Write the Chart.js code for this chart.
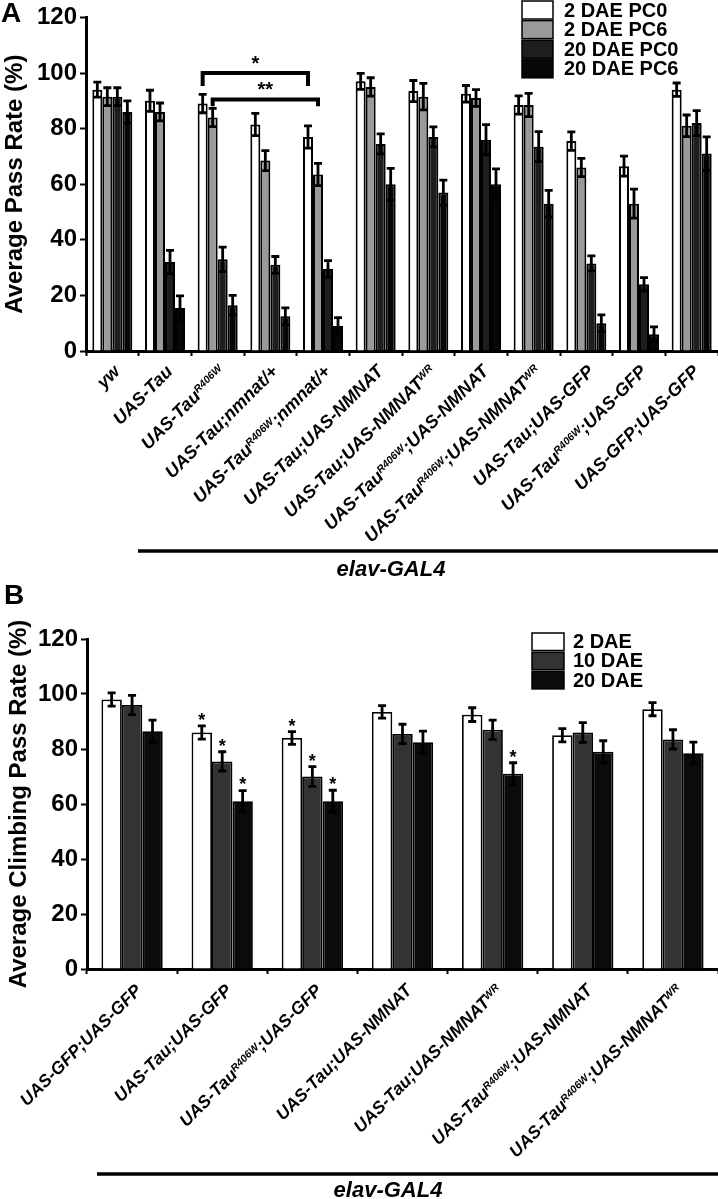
<!DOCTYPE html>
<html>
<head>
<meta charset="utf-8">
<script src="https://cdn.jsdelivr.net/npm/chart.js@4.4.1/dist/chart.umd.min.js"></script>
<style>
  html, body { margin: 0; padding: 0; background: #fff; }
  #wrap { position: relative; width: 718px; height: 1199px; overflow: hidden; }
  canvas { position: absolute; left: 0; }
  #chartA { top: 0; }
  #chartB { top: 585px; }
</style>
</head>
<body>
<div id="wrap">
  <canvas id="chartA" width="718" height="585"></canvas>
  <canvas id="chartB" width="718" height="614"></canvas>
</div>
<script>
const FAMILY = '"Liberation Sans", Arial, Helvetica, sans-serif';

// ---- Panel A data ----
// "^" toggles superscript in a label
const groupsA = ['yw', 'UAS-Tau', 'UAS-Tau^R406W', 'UAS-Tau;nmnat/+', 'UAS-Tau^R406W^;nmnat/+',
  'UAS-Tau;UAS-NMNAT', 'UAS-Tau;UAS-NMNAT^WR', 'UAS-Tau^R406W^;UAS-NMNAT', 'UAS-Tau^R406W^;UAS-NMNAT^WR',
  'UAS-Tau;UAS-GFP', 'UAS-Tau^R406W^;UAS-GFP', 'UAS-GFP;UAS-GFP'];
const seriesA = ['2 DAE PC0', '2 DAE PC6', '20 DAE PC0', '20 DAE PC6'];
const dae2pc0 = [94, 90, 89, 81.5, 77, 97, 93.5, 92.5, 88.5, 75.5, 66.5, 94];
const dae2pc6 = [91.5, 86, 84, 68.5, 63.5, 95, 91.5, 91, 88.5, 66, 53, 81];
const dae20pc0 = [91.5, 32, 33, 31, 29.5, 74.5, 77, 76, 73.5, 31.5, 24, 82];
const dae20pc6 = [86, 15.5, 16.5, 12.5, 9, 60, 57, 60, 53, 10, 6, 71];
const err2pc0 = [2.7, 3.8, 3.3, 4, 4, 2.9, 3.8, 3, 3.3, 3.3, 3.6, 2.4];
const err2pc6 = [3.2, 3.2, 3.3, 3.6, 4, 3.3, 4.8, 3, 4.2, 3.3, 5.2, 3.9];
const err20pc0 = [3.2, 4.2, 4.4, 3, 3, 3.6, 3.6, 5.4, 5.4, 2.7, 2.4, 4.5];
const err20pc6 = [4, 4.3, 3.5, 3, 3, 5.7, 4.5, 5.5, 4.8, 3, 2.7, 6];
const coloursA = ['#ffffff', '#9a9a9a', '#1e1e1e', '#070707'];
// significance brackets: [dataset, fromGroup, toGroup, level, endLevel, mark]
const bracketsA = [
  [0, 2, 4, 100, 95.3, '*'],
  [1, 2, 4, 90.5, 88, '**']
];

// ---- Panel B data ----
const groupsB = ['UAS-GFP;UAS-GFP', 'UAS-Tau;UAS-GFP', 'UAS-Tau^R406W^;UAS-GFP', 'UAS-Tau;UAS-NMNAT',
  'UAS-Tau;UAS-NMNAT^WR', 'UAS-Tau^R406W^;UAS-NMNAT', 'UAS-Tau^R406W^;UAS-NMNAT^WR'];
const seriesB = ['2 DAE', '10 DAE', '20 DAE'];
const dae2 = [98, 86, 84, 93.5, 92.5, 85, 94.5];
const dae10 = [96, 75.5, 70, 85.5, 87, 86, 83.5];
const dae20 = [86.5, 61, 61, 82.5, 71, 79, 78.5];
const err2 = [2.4, 2.4, 2.3, 2.3, 2.5, 2.4, 2.4];
const err10 = [3.5, 3.5, 3.6, 3.5, 3.5, 3.6, 3.5];
const err20 = [4, 3.9, 4, 4, 4, 4, 4];
const sig2 = [0, 1, 1, 0, 0, 0, 0];
const sig10 = [0, 1, 1, 0, 0, 0, 0];
const sig20 = [0, 1, 1, 0, 1, 0, 0];
const coloursB = ['#ffffff', '#333333', '#0b0b0b'];

const yTicks = { min: 0, max: 120, step: 20 };

Chart.defaults.font.family = FAMILY;
Chart.defaults.color = '#000';

// draws text with ^superscript^ segments, right end anchored at (x, y), rotated -45deg
function drawRichLabel(ctx, text, x, y, size, supSize) {
  const parts = text.split('^');
  const main = `italic bold ${size}px ${FAMILY}`;
  const sup = `italic bold ${supSize}px ${FAMILY}`;
  let total = 0;
  parts.forEach((p, k) => { ctx.font = k % 2 ? sup : main; total += ctx.measureText(p).width; });
  ctx.save();
  ctx.translate(x, y);
  ctx.rotate(-Math.PI / 4);
  ctx.textAlign = 'left';
  ctx.textBaseline = 'alphabetic';
  let cx = -total;
  parts.forEach((p, k) => {
    ctx.font = k % 2 ? sup : main;
    const by = k % 2 ? -size * 0.358 + supSize * 0.716 : size * 0.358;
    ctx.fillText(p, cx, by);
    cx += ctx.measureText(p).width;
  });
  ctx.restore();
}

function decorPlugin(cfg) {
  return {
    id: 'decor',
    afterDatasetsDraw(chart) {
      const ctx = chart.ctx, ys = chart.scales.y;
      ctx.save();
      ctx.strokeStyle = '#000';
      ctx.fillStyle = '#000';
      ctx.lineWidth = 2.8;
      chart.data.datasets.forEach((ds, di) => {
        const meta = chart.getDatasetMeta(di);
        meta.data.forEach((bar, i) => {
          const v = ds.data[i], e = cfg.errors[di][i];
          const top = ys.getPixelForValue(v + e), bot = ys.getPixelForValue(v - e);
          ctx.beginPath();
          ctx.moveTo(bar.x, top); ctx.lineTo(bar.x, bot);
          ctx.moveTo(bar.x - 4, top); ctx.lineTo(bar.x + 4, top);
          ctx.moveTo(bar.x - 4, bot); ctx.lineTo(bar.x + 4, bot);
          ctx.stroke();
          if (cfg.stars && cfg.stars[di][i]) {
            ctx.font = `bold 18px ${FAMILY}`;
            ctx.textAlign = 'center';
            ctx.textBaseline = 'top';
            ctx.fillText('*', bar.x, top - 14);
          }
        });
      });
      ctx.restore();
    },
    afterDraw(chart) {
      const ctx = chart.ctx, xs = chart.scales.x, ys = chart.scales.y;
      ctx.save();
      ctx.fillStyle = '#000';
      ctx.strokeStyle = '#000';

      // category labels
      chart.data.labels.forEach((lab, i) => {
        const px = xs.getPixelForValue(i) + cfg.labelDx;
        drawRichLabel(ctx, lab, px, xs.top + cfg.labelDy, cfg.labelSize, cfg.supSize);
      });

      // brackets
      (cfg.brackets || []).forEach(([di, g1, g2, lvl, endLvl, mark]) => {
        const meta = chart.getDatasetMeta(di);
        const x1 = meta.data[g1].x, x2 = meta.data[g2].x;
        const yl = ys.getPixelForValue(lvl), ye = ys.getPixelForValue(endLvl);
        ctx.lineWidth = 4;
        ctx.beginPath();
        ctx.moveTo(x1, ye); ctx.lineTo(x1, yl); ctx.lineTo(x2, yl); ctx.lineTo(x2, ye);
        ctx.stroke();
        ctx.font = `bold 20px ${FAMILY}`;
        ctx.textAlign = 'center';
        ctx.textBaseline = 'top';
        ctx.fillText(mark, (x1 + x2) / 2, yl - 19);
      });

      // legend
      const lg = cfg.legend;
      chart.data.datasets.forEach((ds, di) => {
        const by = lg.y + di * lg.row;
        ctx.fillStyle = ds.backgroundColor;
        ctx.fillRect(lg.x, by, lg.w, lg.h);
        ctx.lineWidth = 1.5;
        ctx.strokeRect(lg.x, by, lg.w, lg.h);
        ctx.fillStyle = '#000';
        ctx.font = `bold 20px ${FAMILY}`;
        ctx.textAlign = 'left';
        ctx.textBaseline = 'middle';
        ctx.fillText(ds.label, lg.tx, by + lg.h / 2 + 1);
      });

      // driver line and label
      ctx.lineWidth = 3.5;
      ctx.beginPath();
      ctx.moveTo(cfg.line.x1, cfg.line.y);
      ctx.lineTo(chart.width, cfg.line.y);
      ctx.stroke();
      ctx.font = `italic bold 22px ${FAMILY}`;
      ctx.textAlign = 'center';
      ctx.textBaseline = 'middle';
      ctx.fillText('elav-GAL4', cfg.line.tx, cfg.line.ty);

      // panel letter
      ctx.font = `bold 28px ${FAMILY}`;
      ctx.textAlign = 'left';
      ctx.textBaseline = 'alphabetic';
      ctx.fillText(cfg.letter, cfg.letterPos[0], cfg.letterPos[1]);
      ctx.restore();
    }
  };
}

function makeChart(id, o) {
  const datasets = o.series.map((name, k) => ({
    label: name,
    data: o.values[k],
    backgroundColor: o.colours[k],
    borderColor: '#000',
    borderWidth: o.borderWidth,
    barPercentage: 1,
    categoryPercentage: o.catPct
  }));
  return new Chart(document.getElementById(id), {
    type: 'bar',
    data: { labels: o.groups, datasets },
    options: {
      responsive: false,
      animation: false,
      events: [],
      layout: { autoPadding: false, padding: { top: o.top, left: 0, right: 0, bottom: 0 } },
      plugins: { legend: { display: false }, tooltip: { enabled: false } },
      scales: {
        x: {
          ticks: { display: false },
          grid: { drawOnChartArea: false, offset: true, tickLength: 5, tickWidth: 2, tickColor: '#000' },
          border: { color: '#000', width: 3 },
          afterFit: s => { s.height = o.xHeight; }
        },
        y: {
          min: yTicks.min, max: yTicks.max,
          ticks: { stepSize: yTicks.step, color: '#000', padding: 3, font: { size: 24, weight: 'bold' } },
          grid: { drawOnChartArea: false, tickLength: 6, tickWidth: 2, tickColor: '#000' },
          border: { color: '#000', width: 3 },
          title: { display: true, text: o.yTitle, color: '#000', font: { size: 24, weight: 'bold' }, padding: { top: o.titlePad, bottom: 0 } },
          afterFit: s => { s.width = o.yWidth; }
        }
      }
    },
    plugins: [decorPlugin(o.decor)]
  });
}

makeChart('chartA', {
  groups: groupsA,
  series: seriesA,
  values: [dae2pc0, dae2pc6, dae20pc0, dae20pc6],
  colours: coloursA,
  borderWidth: 2,
  catPct: 0.76,
  top: 17,
  xHeight: 234,
  yWidth: 86,
  titlePad: 1,
  yTitle: 'Average Pass Rate (%)',
  decor: {
    errors: [err2pc0, err2pc6, err20pc0, err20pc6],
    brackets: bracketsA,
    labelDx: 4, labelDy: 17, labelSize: 18, supSize: 10.5,
    legend: { x: 522, y: 1, w: 31, h: 18, row: 19.6, tx: 564 },
    line: { x1: 138, y: 551, tx: 391, ty: 570 },
    letter: 'A', letterPos: [1, 22]
  }
});

makeChart('chartB', {
  groups: groupsB,
  series: seriesB,
  values: [dae2, dae10, dae20],
  colours: coloursB,
  borderWidth: 1.8,
  catPct: 0.68,
  top: 54,
  xHeight: 230,
  yWidth: 87,
  titlePad: 5,
  yTitle: 'Average Climbing Pass Rate (%)',
  decor: {
    errors: [err2, err10, err20],
    stars: [sig2, sig10, sig20],
    labelDx: 6, labelDy: 18, labelSize: 17.5, supSize: 10.5,
    legend: { x: 532, y: 48, w: 32, h: 17.5, row: 19.2, tx: 573 },
    line: { x1: 97, y: 589, tx: 388, ty: 606 },
    letter: 'B', letterPos: [4, 19]
  }
});
</script>
</body>
</html>
